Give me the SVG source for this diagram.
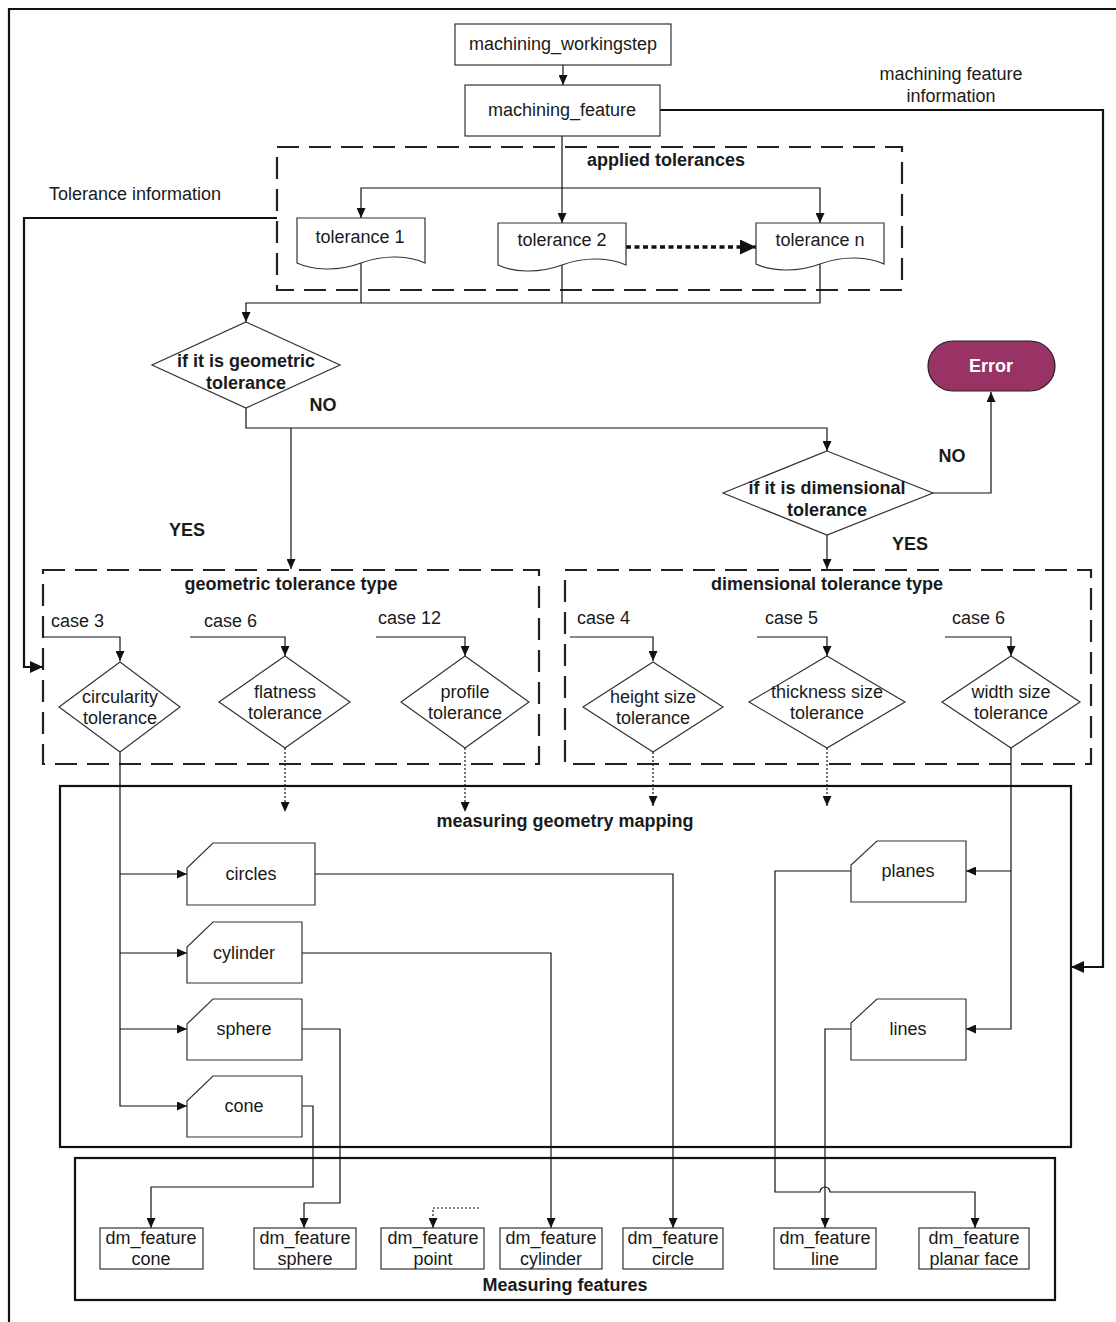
<svg xmlns="http://www.w3.org/2000/svg" width="1116" height="1322" viewBox="0 0 1116 1322">
<style>
text{font-family:"Liberation Sans",Arial,sans-serif;font-size:18px;fill:#1a1a1a;text-anchor:middle}
.b{font-weight:bold}
.l{text-anchor:start}
.n{fill:#fff;stroke:#333;stroke-width:1.2}
.c{fill:none;stroke:#111;stroke-width:1.2}
.k{fill:none;stroke:#111;stroke-width:2.2}
.d{fill:none;stroke:#222;stroke-width:2.2;stroke-dasharray:22 10}
.p{fill:none;stroke:#111;stroke-width:1.2;stroke-dasharray:2 2}
.fr{fill:none;stroke:#111;stroke-width:2.2}
</style>
<defs>
<marker id="a" markerUnits="userSpaceOnUse" markerWidth="10" markerHeight="9" refX="10" refY="4.5" orient="auto"><path d="M0,0 L10,4.5 L0,9 Z" fill="#111"/></marker>
<marker id="ab" markerUnits="userSpaceOnUse" markerWidth="13" markerHeight="12" refX="13" refY="6" orient="auto"><path d="M0,0 L13,6 L0,12 Z" fill="#111"/></marker>
<marker id="ad" markerUnits="userSpaceOnUse" markerWidth="16" markerHeight="15" refX="16" refY="7.5" orient="auto"><path d="M0,0 L16,7.5 L0,15 Z" fill="#111"/></marker>
</defs>

<path class="fr" d="M9,1322 V9 H1116"/>

<g id="container-applied">
<rect class="d" x="277" y="147" width="625" height="143"/>
<text class="b" x="666" y="166">applied tolerances</text>
</g>
<g id="container-geometric">
<rect class="d" x="43" y="570" width="496" height="194"/>
<text class="b" x="291" y="590">geometric tolerance type</text>
</g>
<g id="container-dimensional">
<rect class="d" x="565" y="570" width="526" height="194"/>
<text class="b" x="827" y="590">dimensional tolerance type</text>
</g>
<g id="container-mapping">
<rect class="k" x="60" y="786" width="1011" height="361"/>
<text class="b" x="565" y="827">measuring geometry mapping</text>
</g>
<g id="container-features">
<rect class="k" x="75" y="1158" width="980" height="142"/>
<text class="b" x="565" y="1291">Measuring features</text>
</g>

<g id="connectors">
<path class="c" d="M563,65 V85" marker-end="url(#a)"/>
<path class="c" d="M562,136 V223" marker-end="url(#a)"/>
<path class="c" d="M562,188 H361 V218" marker-end="url(#a)"/>
<path class="c" d="M562,188 H820 V223" marker-end="url(#a)"/>
<path d="M626,247 H756" fill="none" stroke="#111" stroke-width="3.5" stroke-dasharray="5 3.5" marker-end="url(#ad)"/>
<path class="c" d="M361,262 V303"/>
<path class="c" d="M562,264 V303"/>
<path class="c" d="M820,264 V303 H246 V322" marker-end="url(#a)"/>
<path class="k" d="M277,218 H24 V667 H43" marker-end="url(#ab)"/>
<path class="k" d="M660,110 H1103 V967 H1071" marker-end="url(#ab)"/>
<path class="c" d="M246,408 V428 H827 V451" marker-end="url(#a)"/>
<path class="c" d="M291,428 V569" marker-end="url(#a)"/>
<path class="c" d="M933,493 H991 V392" marker-end="url(#a)"/>
<path class="c" d="M827,535 V569" marker-end="url(#a)"/>
<path class="c" d="M44,637 H120 V661" marker-end="url(#a)"/>
<path class="c" d="M190,637 H285 V656" marker-end="url(#a)"/>
<path class="c" d="M376,637 H465 V656" marker-end="url(#a)"/>
<path class="c" d="M570,637 H653 V661" marker-end="url(#a)"/>
<path class="c" d="M757,637 H827 V656" marker-end="url(#a)"/>
<path class="c" d="M945,637 H1011 V656" marker-end="url(#a)"/>
<path class="p" d="M285,748 V812" marker-end="url(#a)"/>
<path class="p" d="M465,748 V812" marker-end="url(#a)"/>
<path class="p" d="M653,752 V806" marker-end="url(#a)"/>
<path class="p" d="M827,748 V806" marker-end="url(#a)"/>
<path class="c" d="M120,752 V1106 H187" marker-end="url(#a)"/>
<path class="c" d="M120,874 H187" marker-end="url(#a)"/>
<path class="c" d="M120,953 H187" marker-end="url(#a)"/>
<path class="c" d="M120,1029 H187" marker-end="url(#a)"/>
<path class="c" d="M1011,748 V1029 H966" marker-end="url(#a)"/>
<path class="c" d="M1011,871 H966" marker-end="url(#a)"/>
<path class="c" d="M315,874 H673 V1228" marker-end="url(#a)"/>
<path class="c" d="M302,953 H551 V1228" marker-end="url(#a)"/>
<path class="c" d="M302,1029 H340 V1203 H304 V1228" marker-end="url(#a)"/>
<path class="c" d="M302,1106 H313 V1187 H151 V1228" marker-end="url(#a)"/>
<path class="c" d="M851,871 H775 V1192 H820 A5,5 0 0 1 830,1192 H975 V1228" marker-end="url(#a)"/>
<path class="c" d="M851,1029 H825 V1228" marker-end="url(#a)"/>
<path class="p" d="M479,1208 H433 V1228" marker-end="url(#a)"/>
</g>

<g id="machining_workingstep">
<rect class="n" x="455" y="24" width="216" height="41"/>
<text x="563" y="50">machining_workingstep</text>
</g>
<g id="machining_feature">
<rect class="n" x="465" y="85" width="195" height="51"/>
<text x="562" y="116">machining_feature</text>
</g>
<text x="951" y="80">machining feature</text>
<text x="951" y="102">information</text>
<text x="135" y="200">Tolerance information</text>

<g id="tolerance1">
<path class="n" d="M297,218 H425 V263 C410,256 385,254 361,263 C337,272 312,270 297,263 Z"/>
<text x="360" y="243">tolerance 1</text>
</g>
<g id="tolerance2">
<path class="n" d="M498,223 H626 V265 C611,258 586,256 562,265 C538,274 513,272 498,265 Z"/>
<text x="562" y="246">tolerance 2</text>
</g>
<g id="tolerancen">
<path class="n" d="M756,223 H884 V264 C869,257 844,255 820,264 C796,273 771,271 756,264 Z"/>
<text x="820" y="246">tolerance n</text>
</g>

<g id="is-geometric">
<path class="n" d="M246,322 L340,365 L246,408 L152,365 Z"/>
<text class="b" x="246" y="367">if it is geometric</text>
<text class="b" x="246" y="389">tolerance</text>
</g>
<text class="b" x="323" y="411">NO</text>
<text class="b" x="187" y="536">YES</text>

<g id="error">
<rect x="928" y="341" width="127" height="50" rx="25" fill="#993366" stroke="#222" stroke-width="1.2"/>
<text class="b" x="991" y="372" style="fill:#fff">Error</text>
</g>
<text class="b" x="952" y="462">NO</text>

<g id="is-dimensional">
<path class="n" d="M827,451 L933,493 L827,535 L723,493 Z"/>
<text class="b" x="827" y="494">if it is dimensional</text>
<text class="b" x="827" y="516">tolerance</text>
</g>
<text class="b" x="910" y="550">YES</text>

<text class="l" x="51" y="627">case 3</text>
<text class="l" x="204" y="627">case 6</text>
<text class="l" x="378" y="624">case 12</text>
<text class="l" x="577" y="624">case 4</text>
<text class="l" x="765" y="624">case 5</text>
<text class="l" x="952" y="624">case 6</text>

<g id="circularity">
<path class="n" d="M120,662 L180,707 L120,752 L59,707 Z"/>
<text x="120" y="703">circularity</text>
<text x="120" y="724">tolerance</text>
</g>
<g id="flatness">
<path class="n" d="M285,656 L350,702 L285,748 L219,702 Z"/>
<text x="285" y="698">flatness</text>
<text x="285" y="719">tolerance</text>
</g>
<g id="profile">
<path class="n" d="M465,656 L529,702 L465,748 L401,702 Z"/>
<text x="465" y="698">profile</text>
<text x="465" y="719">tolerance</text>
</g>
<g id="height-size">
<path class="n" d="M653,662 L723,707 L653,752 L583,707 Z"/>
<text x="653" y="703">height size</text>
<text x="653" y="724">tolerance</text>
</g>
<g id="thickness-size">
<path class="n" d="M827,656 L905,702 L827,748 L749,702 Z"/>
<text x="827" y="698">thickness size</text>
<text x="827" y="719">tolerance</text>
</g>
<g id="width-size">
<path class="n" d="M1011,656 L1080,702 L1011,748 L942,702 Z"/>
<text x="1011" y="698">width size</text>
<text x="1011" y="719">tolerance</text>
</g>

<g id="circles">
<path class="n" d="M213,843 H315 V905 H187 V868 Z"/>
<text x="251" y="880">circles</text>
</g>
<g id="cylinder">
<path class="n" d="M213,922 H302 V983 H187 V947 Z"/>
<text x="244" y="959">cylinder</text>
</g>
<g id="sphere">
<path class="n" d="M213,999 H302 V1060 H187 V1024 Z"/>
<text x="244" y="1035">sphere</text>
</g>
<g id="cone">
<path class="n" d="M213,1076 H302 V1137 H187 V1101 Z"/>
<text x="244" y="1112">cone</text>
</g>
<g id="planes">
<path class="n" d="M877,841 H966 V902 H851 V865 Z"/>
<text x="908" y="877">planes</text>
</g>
<g id="lines">
<path class="n" d="M877,999 H966 V1060 H851 V1023 Z"/>
<text x="908" y="1035">lines</text>
</g>

<g id="dm-cone">
<rect class="n" x="100" y="1228" width="103" height="41"/>
<text x="151" y="1244">dm_feature</text><text x="151" y="1265">cone</text>
</g>
<g id="dm-sphere">
<rect class="n" x="254" y="1228" width="102" height="41"/>
<text x="305" y="1244">dm_feature</text><text x="305" y="1265">sphere</text>
</g>
<g id="dm-point">
<rect class="n" x="381" y="1228" width="103" height="41"/>
<text x="433" y="1244">dm_feature</text><text x="433" y="1265">point</text>
</g>
<g id="dm-cylinder">
<rect class="n" x="500" y="1228" width="102" height="41"/>
<text x="551" y="1244">dm_feature</text><text x="551" y="1265">cylinder</text>
</g>
<g id="dm-circle">
<rect class="n" x="623" y="1228" width="100" height="41"/>
<text x="673" y="1244">dm_feature</text><text x="673" y="1265">circle</text>
</g>
<g id="dm-line">
<rect class="n" x="774" y="1228" width="102" height="41"/>
<text x="825" y="1244">dm_feature</text><text x="825" y="1265">line</text>
</g>
<g id="dm-planar">
<rect class="n" x="919" y="1228" width="110" height="41"/>
<text x="974" y="1244">dm_feature</text><text x="974" y="1265">planar face</text>
</g>
</svg>
